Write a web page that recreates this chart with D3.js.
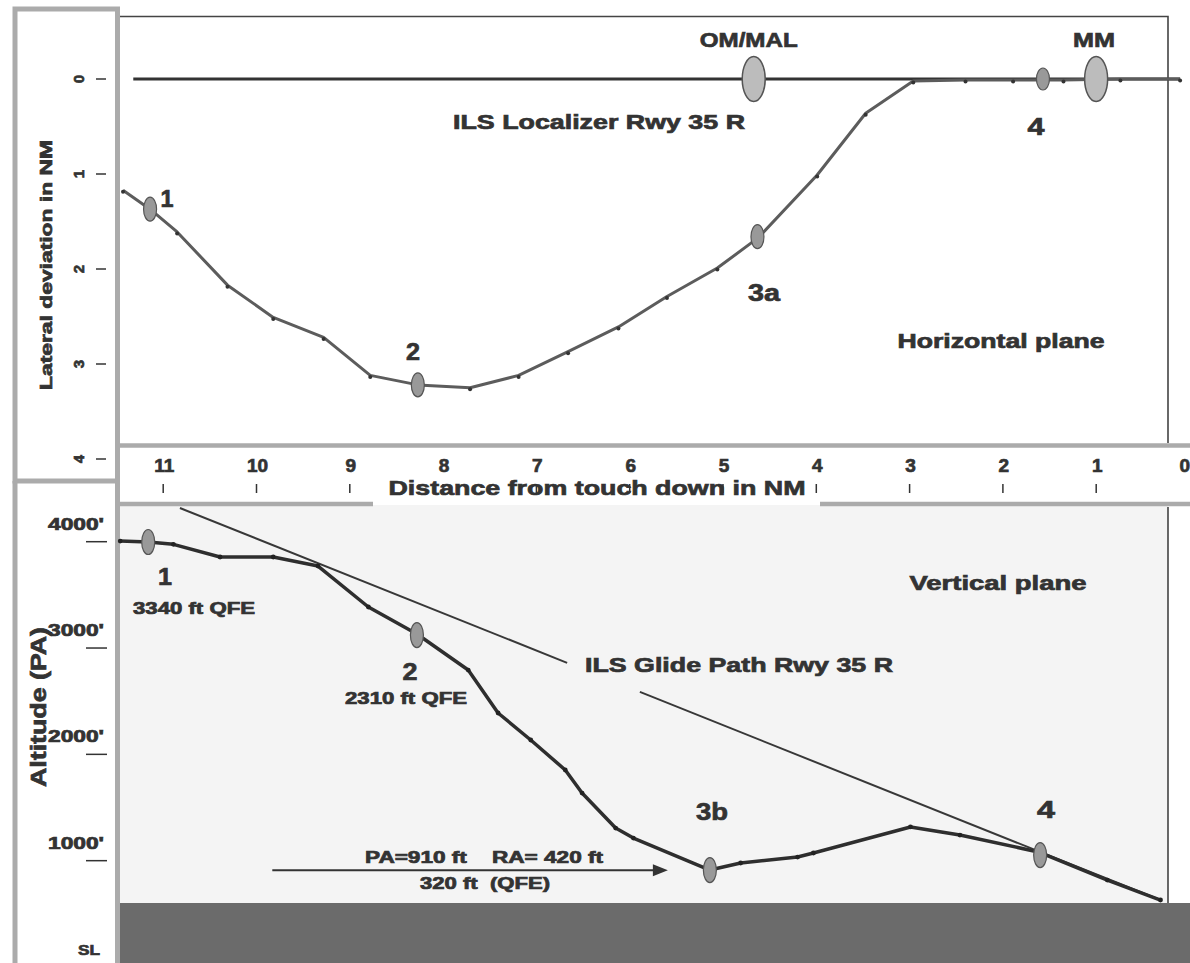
<!DOCTYPE html>
<html><head><meta charset="utf-8">
<script src="https://cdn.jsdelivr.net/npm/d3@7"></script>
<style>
body{margin:0;background:#fff}
svg{display:block}
text{font-family:"Liberation Sans",Arial,sans-serif;font-weight:bold;fill:#333;stroke:#333;stroke-width:0.7px;white-space:pre}
</style>
</head><body>
<svg id="c" width="1190" height="963"></svg>
<script>
// ---------- data ----------
const distTicks = [11,10,9,8,7,6,5,4,3,2,1,0];
const lateralTicks = [0,1,2,3,4];
const altTicks = [1000,2000,3000,4000];
const altTickLabels = ["1000'","2000'","3000'","4000'"];

const localizerDist = [11.31, 0.09];
const localizerDev = [0, 0];

const lateralDist = [11.42,11.13,10.84,10.30,9.81,9.27,8.77,8.26,7.70,7.18,6.65,6.11,5.59,5.05,4.61,3.98,3.46,2.95,2.39,1.88,1.34,0.73,0.09];
const lateralDev  = [1.17,1.37,1.61,2.17,2.51,2.72,3.12,3.22,3.25,3.12,2.87,2.61,2.29,1.99,1.67,1.01,0.36,0.02,0.01,0.01,0.01,0.0,0.0];

const altDist = [11.45,11.15,10.88,10.38,9.81,9.33,8.79,8.27,7.72,7.40,7.05,6.68,6.50,6.14,5.95,5.13,4.80,4.19,4.02,2.98,2.45,1.61,0.87,0.30];
const altFt   = [4006,3997,3975,3856,3856,3771,3386,3132,2793,2389,2135,1853,1636,1307,1213,912,978,1034,1072,1317,1241,1082,818,630];

const glideDist = [10.81, 6.66, 5.88, 0.30];
const glideAlt  = [4317, 2861, 2587, 630];

const beaconNames = ["OM/MAL","MM"];
const beaconDist = [4.66, 0.99];

const lateralMarkerNames = ["1","2","3a","4"];
const lateralMarkerDist = [11.13, 8.26, 4.62, 1.56];
const lateralMarkerDev  = [1.37, 3.22, 1.66, 0];

const altMarkerNames = ["1","2","3b","4"];
const altMarkerDist = [11.15, 8.27, 5.13, 1.59];
const altMarkerFt   = [3997, 3122, 912, 1053];

const altNotes = ["3340 ft QFE","2310 ft QFE"];
const minimaText = ["PA=910 ft    RA= 420 ft", "320 ft  (QFE)"];
const arrowDist = [9.82, 5.58];
const arrowFt = 910;

// ---------- scales ----------
const svg = d3.select("#c");
const x = d3.scaleLinear().domain([0, 11]).range([1188.5, 162.2]);
const yLat = d3.scaleLinear().domain([0, 4]).range([79, 459]);
const yAlt = d3.scaleLinear().domain([0, 4000]).range([967, 541.7]);

const GRAY = "#ababab";

// ---------- backgrounds / frames ----------
svg.append("rect").attr("x",118).attr("y",505).attr("width",1050).attr("height",398).attr("fill","#f4f4f4");
svg.append("rect").attr("x",118).attr("y",903).attr("width",1072).attr("height",60).attr("fill","#6b6b6b");

svg.append("rect").attr("x",15).attr("y",9).attr("width",102.5).attr("height",472).attr("fill","none").attr("stroke",GRAY).attr("stroke-width",5);
svg.append("path").attr("d","M15,481V963M117.5,481V963").attr("stroke",GRAY).attr("stroke-width",5);
svg.append("line").attr("x1",117).attr("x2",1190).attr("y1",445.5).attr("y2",445.5).attr("stroke",GRAY).attr("stroke-width",4.5);
svg.append("line").attr("x1",117).attr("x2",373).attr("y1",504).attr("y2",504).attr("stroke",GRAY).attr("stroke-width",4.5);
svg.append("line").attr("x1",820).attr("x2",1190).attr("y1",504).attr("y2",504).attr("stroke",GRAY).attr("stroke-width",4.5);
svg.append("path").attr("d","M120,16.5H1168V443M1168,507V903").attr("fill","none").attr("stroke","#444").attr("stroke-width",1.6);

// ---------- helpers ----------
function txt(s, cx, base, size, len, anchor){
  const t = svg.append("text").attr("x",cx).attr("y",base).attr("font-size",size)
    .attr("text-anchor",anchor||"middle").attr("xml:space","preserve").text(s);
  if(len){ t.attr("textLength",len).attr("lengthAdjust","spacingAndGlyphs"); }
  return t;
}

// ---------- top panel ----------
const latLine = d3.line().x(d=>x(d[0])).y(d=>yLat(d[1]));
svg.append("path").datum(d3.zip(localizerDist, localizerDev)).attr("d",latLine)
  .attr("fill","none").attr("stroke","#333").attr("stroke-width",3);
svg.append("path").datum(d3.zip(lateralDist, lateralDev)).attr("d",latLine)
  .attr("fill","none").attr("stroke","#5c5c5c").attr("stroke-width",3).attr("stroke-linejoin","round");
svg.selectAll(".lv").data(d3.zip(lateralDist, lateralDev)).join("circle")
  .attr("cx",d=>x(d[0])).attr("cy",d=>yLat(d[1])+1.5).attr("r",2).attr("fill","#333");

beaconNames.forEach((n,i)=>{
  svg.append("ellipse").attr("cx",x(beaconDist[i])).attr("cy",yLat(0)).attr("rx",11.5).attr("ry",22.5)
    .attr("fill","#bcbcbc").attr("stroke","#555").attr("stroke-width",1.5);
});
txt("OM/MAL", x(beaconDist[0])-5, 47, 21, 98);
txt("MM", x(beaconDist[1])-2, 47, 21, 42);

lateralMarkerNames.forEach((n,i)=>{
  svg.append("ellipse").attr("cx",x(lateralMarkerDist[i])).attr("cy",yLat(lateralMarkerDev[i]))
    .attr("rx",6.5).attr("ry",i===3?11:12).attr("fill","#999").attr("stroke","#555").attr("stroke-width",1.2);
});
txt("1", 167, 207, 23, 13);
txt("2", 413, 360, 24, 14);
txt("3a", 764, 301, 23, 32);
txt("4", 1036, 135, 24, 17);

txt("ILS Localizer Rwy 35 R", 599, 129, 20, 292);
txt("Horizontal plane", 1001, 348, 20, 207);

lateralTicks.forEach(v=>{
  svg.append("text").attr("font-size",15).attr("text-anchor","middle")
    .attr("transform",`translate(84,${yLat(v)}) rotate(-90)`).text(v);
  svg.append("line").attr("x1",96).attr("x2",106).attr("y1",yLat(v)).attr("y2",yLat(v)).attr("stroke","#333").attr("stroke-width",1.5);
});
svg.append("text").attr("font-size",17).attr("text-anchor","middle")
  .attr("transform","translate(52,265) rotate(-90)").attr("textLength",250).attr("lengthAdjust","spacingAndGlyphs")
  .text("Lateral deviation in NM");

// ---------- x axis ----------
distTicks.forEach(v=>{
  const t = svg.append("text").attr("y",472).attr("font-size",19).text(v);
  if(v>0){ t.attr("x",x(v)+2).attr("text-anchor","middle"); }
  else { t.attr("x",1190).attr("text-anchor","end"); }
  if(v>0) svg.append("line").attr("x1",x(v)+1).attr("x2",x(v)+1).attr("y1",484).attr("y2",493).attr("stroke","#333").attr("stroke-width",1.5);
});
txt("Distance from touch down in NM", 597, 495, 21, 417);

// ---------- lower panel ----------
const altLine = d3.line().x(d=>x(d[0])).y(d=>yAlt(d[1]));
const gp = d3.zip(glideDist, glideAlt);
svg.append("path").datum(gp.slice(0,2)).attr("d",altLine).attr("fill","none").attr("stroke","#383838").attr("stroke-width",2);
svg.append("path").datum(gp.slice(2,4)).attr("d",altLine).attr("fill","none").attr("stroke","#383838").attr("stroke-width",2);

svg.append("path").datum(d3.zip(altDist, altFt)).attr("d",altLine)
  .attr("fill","none").attr("stroke","#2e2e2e").attr("stroke-width",3.5).attr("stroke-linejoin","round");
svg.selectAll(".av").data(d3.zip(altDist, altFt)).join("circle")
  .attr("cx",d=>x(d[0])).attr("cy",d=>yAlt(d[1])).attr("r",2.4).attr("fill","#222");

altMarkerNames.forEach((n,i)=>{
  svg.append("ellipse").attr("cx",x(altMarkerDist[i])).attr("cy",yAlt(altMarkerFt[i]))
    .attr("rx",6.5).attr("ry",12.5).attr("fill","#999").attr("stroke","#555").attr("stroke-width",1.2);
});
txt("1", 165, 585, 24, 14);
txt(altNotes[0], 194, 614, 16, 122);
txt("2", 410, 680, 24, 15);
txt(altNotes[1], 406, 704, 16, 122);
txt("3b", 712, 820, 24, 32);
txt("4", 1046, 818, 24, 18);
txt("Vertical plane", 998, 590, 20, 177);
txt("ILS Glide Path Rwy 35 R", 739, 672, 20, 308);

const ay = yAlt(arrowFt);
svg.append("line").attr("x1",x(arrowDist[0])).attr("x2",x(arrowDist[1])-12).attr("y1",ay).attr("y2",ay)
  .attr("stroke","#333").attr("stroke-width",2);
svg.append("path").attr("d",`M${x(arrowDist[1])},${ay}l-15,-6v12z`).attr("fill","#333");
txt(minimaText[0], 484, 863, 16, 238);
txt(minimaText[1], 485, 889, 16, 130);

altTicks.forEach((v,i)=>{
  txt(altTickLabels[i], 104, yAlt(v)-12, 16, 56, "end");
  svg.append("line").attr("x1",86).attr("x2",107).attr("y1",yAlt(v)).attr("y2",yAlt(v)).attr("stroke","#333").attr("stroke-width",1.5);
});
txt("SL", 100, 955, 15, 22, "end");
svg.append("text").attr("font-size",22).attr("text-anchor","middle")
  .attr("transform","translate(46,707) rotate(-90)").attr("textLength",160).attr("lengthAdjust","spacingAndGlyphs")
  .text("Altitude (PA)");
</script>
</body></html>
